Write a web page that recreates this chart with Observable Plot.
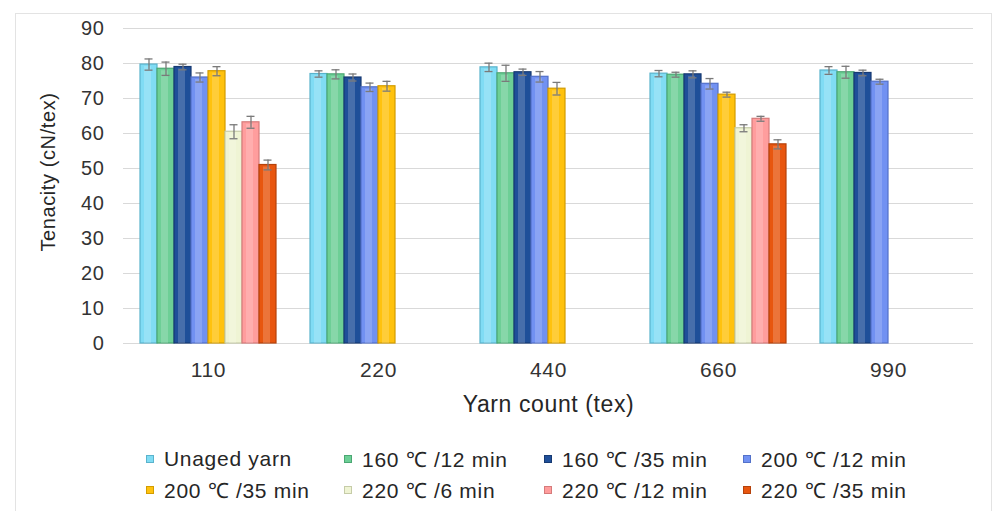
<!DOCTYPE html>
<html>
<head>
<meta charset="utf-8">
<script src="https://cdn.jsdelivr.net/npm/d3@7"></script>
<script src="https://cdn.jsdelivr.net/npm/@observablehq/plot@0.6"></script>
<style>
  html, body { margin: 0; padding: 0; background: #fff; }
  #wrap { position: relative; width: 995px; height: 511px; overflow: hidden; font-family: "Liberation Sans", Arial, sans-serif; }
  #frame { position: absolute; left: 15px; top: 13px; width: 977px; height: 520px; border: 1px solid #e3e3e3; box-sizing: border-box; }
  #chart { position: absolute; left: 0; top: 0; }
  #chart svg text { letter-spacing: 0.6px; }
  .lg { position: absolute; display: flex; align-items: center; font-size: 21px; color: #262626; letter-spacing: 0.7px; white-space: nowrap; }
  .sw { width: 8px; height: 8px; margin-right: 10px; box-sizing: border-box; border: 1px solid; }
</style>
</head>
<body>
<div id="wrap">
  <div id="frame"></div>
  <div id="chart"></div>
  <div id="legend"></div>
</div>
<script>
const groups = ["110", "220", "440", "660", "990"];
const series = ["Unaged yarn", "160 ℃ /12 min", "160 ℃ /35 min", "200 ℃ /12 min",
                "200 ℃ /35 min", "220 ℃ /6 min", "220 ℃ /12 min", "220 ℃ /35 min"];
const fills   = ["#80dcf4", "#6dcf96", "#1f4f99", "#7191f2", "#ffc20e", "#eff4d4", "#ff9d9d", "#e8560f"];
const strokes = ["#5ab3cc", "#4ba773", "#173a72", "#5371c9", "#d39c00", "#c6cca8", "#d67b7b", "#b5420b"];

// mean tenacity per series, one value per yarn count (null = not measured)
const unaged   = [79.7, 77.0, 78.9, 77.1, 78.0];
const t160_12  = [78.5, 76.9, 77.2, 76.8, 77.5];
const t160_35  = [79.0, 76.0, 77.5, 76.9, 77.3];
const t200_12  = [76.0, 73.2, 76.2, 74.2, 74.8];
const t200_35  = [77.8, 73.5, 72.8, 71.1, null];
const t220_6   = [60.5, null, null, 61.5, null];
const t220_12  = [63.2, null, null, 64.2, null];
const t220_35  = [51.0, null, null, 56.9, null];

// error bar half-lengths
const e_unaged  = [1.6, 0.9, 1.2, 0.9, 1.1];
const e160_12   = [1.9, 1.3, 2.3, 0.7, 1.7];
const e160_35   = [0.8, 1.0, 0.9, 1.0, 0.8];
const e200_12   = [1.3, 1.2, 1.5, 1.5, 0.7];
const e200_35   = [1.3, 1.4, 1.8, 0.7, null];
const e220_6    = [2.0, null, null, 1.0, null];
const e220_12   = [1.7, null, null, 0.7, null];
const e220_35   = [1.4, null, null, 1.3, null];

const yTicks = [0, 10, 20, 30, 40, 50, 60, 70, 80, 90];
const yLabel = "Tenacity (cN/tex)";
const xLabel = "Yarn count (tex)";

const values = [unaged, t160_12, t160_35, t200_12, t200_35, t220_6, t220_12, t220_35];
const errors = [e_unaged, e160_12, e160_35, e200_12, e200_35, e220_6, e220_12, e220_35];

const rows = [];
series.forEach((s, i) => {
  groups.forEach((g, j) => {
    const v = values[i][j];
    if (v != null) rows.push({group: g, series: s, v, e: errors[i][j], fill: fills[i], stroke: strokes[i]});
  });
});

const chart = Plot.plot({
  width: 995,
  height: 430,
  marginTop: 28,
  marginBottom: 87,
  marginLeft: 123,
  marginRight: 22,
  style: {fontFamily: "'Liberation Sans', Arial, sans-serif", background: "transparent"},
  fx: {domain: groups, padding: 0, label: null},
  x: {domain: series, paddingInner: 0, paddingOuter: 0.79, axis: null},
  y: {domain: [0, 90], label: null},
  color: {type: "identity"},
  marks: [
    Plot.gridY(yTicks, {stroke: "#d9d9d9", strokeOpacity: 1, strokeWidth: 1.2}),
    Plot.axisY(yTicks, {tickSize: 0, tickPadding: 19, fontSize: 20, fill: "#333", label: null}),
    Plot.axisFx({anchor: "bottom", tickSize: 0, tickPadding: 19, fontSize: 21, fill: "#333", label: null}),
    Plot.barY(rows, {fx: "group", x: "series", y: "v", fill: "fill", stroke: "stroke", strokeWidth: 1.2}),
    Plot.barY(rows, {fx: "group", x: "series", y: "v", fill: "#fff", fillOpacity: 0.18, insetLeft: 4, insetRight: 6, insetTop: 2}),
    Plot.ruleX(rows, {fx: "group", x: "series", y1: d => d.v - d.e, y2: d => d.v + d.e, stroke: "#7a7a7a", strokeWidth: 1.3}),
    Plot.tickY(rows, {fx: "group", x: "series", y: d => d.v + d.e, stroke: "#7a7a7a", strokeWidth: 1.3, insetLeft: 4.5, insetRight: 4.5}),
    Plot.tickY(rows, {fx: "group", x: "series", y: d => d.v - d.e, stroke: "#7a7a7a", strokeWidth: 1.3, insetLeft: 4.5, insetRight: 4.5}),
    Plot.text([xLabel], {fx: () => "440", frameAnchor: "bottom", dy: 68, fontSize: 23, fill: "#262626"}),
    Plot.text([yLabel], {fx: () => "110", frameAnchor: "left", textAnchor: "middle", dx: -75, dy: -14, rotate: -90, fontSize: 20, fill: "#262626"})
  ]
});
document.getElementById("chart").appendChild(chart);

const legendX = [146, 344, 544, 743];
const legendY = [459, 490];
const legend = document.getElementById("legend");
series.forEach((s, i) => {
  const item = document.createElement("div");
  item.className = "lg";
  item.style.left = legendX[i % 4] + "px";
  item.style.top = (legendY[Math.floor(i / 4)] - 12) + "px";
  item.style.height = "24px";
  const sw = document.createElement("span");
  sw.className = "sw";
  sw.style.background = fills[i];
  sw.style.borderColor = strokes[i];
  item.appendChild(sw);
  const t = document.createElement("span");
  t.textContent = s;
  item.appendChild(t);
  legend.appendChild(item);
});
</script>
</body>
</html>
